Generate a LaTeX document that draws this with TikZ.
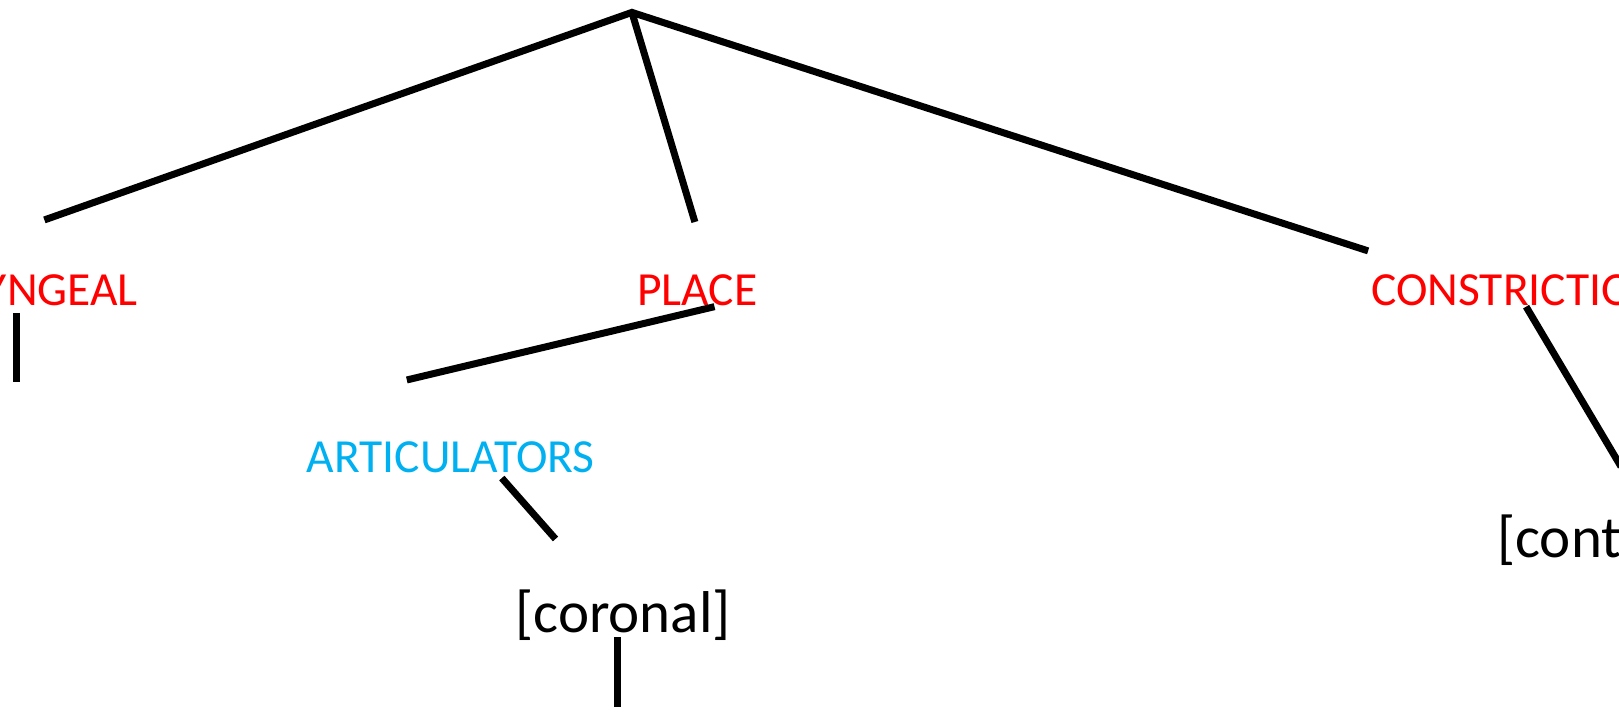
\documentclass[tikz,border=0pt]{standalone}
\usepackage{fontspec}
\setmainfont{Carlito}[Ligatures=NoCommon]
\definecolor{tred}{RGB}{255,0,0}
\definecolor{tblue}{RGB}{0,176,240}
\begin{document}
\begin{tikzpicture}[x=1.0325bp,y=-1.0325bp,
  branch/.style={line width=7bp,black},
  feat/.style={inner sep=0pt,anchor=base west,font=\fontsize{47.5bp}{57bp}\selectfont},
  val/.style={inner sep=0pt,anchor=base west,font=\fontsize{59bp}{70bp}\selectfont,text=black}]
\useasboundingbox (0,0) rectangle (1568,693.4);
% nodes
\node[feat,text=tred] (lar) at (-86,296) {LARYNGEAL};
\node[feat,text=tred] (place) at (617,296) {PLACE};
\node[feat,text=tred] (cons) at (1328,296) {CONSTRICTION};
\node[feat,text=tblue] (art) at (297,458) {ARTICULATORS};
\node[val] (cor) at (499,613) {[coronal]};
\node[val] (cont) at (1450,540) {[continuant]};
% coordinates
\coordinate (root) at (612,12);
\coordinate (rl) at (43,213);
\coordinate (rp) at (673,215);
\coordinate (rc) at (1325,243);
\coordinate (l1) at (16,303);
\coordinate (l2) at (16,370);
\coordinate (p1) at (692,297);
\coordinate (p2) at (394,368);
\coordinate (a1) at (486,463);
\coordinate (a2) at (538,522);
\coordinate (c1) at (598,617);
\coordinate (c2) at (598,685);
\coordinate (k1) at (1478,297);
\coordinate (k2) at (1570,452);
% connectors
\draw[branch] (rl) -- (root) -- (rc);
\draw[branch] (root) -- (rp);
\draw[branch] (l1) -- (l2);
\draw[branch] (p1) -- (p2);
\draw[branch] (a1) -- (a2);
\draw[branch] (c1) -- (c2);
\draw[branch] (k1) -- (k2);
\end{tikzpicture}
\end{document}
